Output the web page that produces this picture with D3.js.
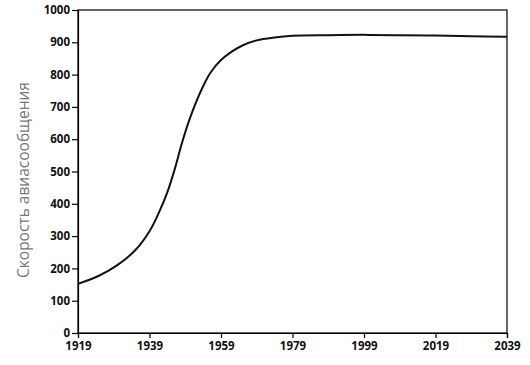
<!DOCTYPE html>
<html>
<head>
<meta charset="utf-8">
<script src="https://cdn.jsdelivr.net/npm/d3@7"></script>
<style>
  body { margin: 0; background: #fff; }
  svg { display: block; }
  .tick text { font-family: "Open Sans", sans-serif; font-weight: 700; font-size: 11.5px; fill: #111; }
</style>
</head>
<body>
<svg id="chart" width="530" height="365"></svg>
<script>
// data
var years  = [1919, 1925, 1930, 1935, 1939, 1942, 1944, 1946, 1948, 1950, 1952, 1954, 1956, 1959, 1962, 1965, 1969, 1974, 1979, 1989, 1999, 2009, 2019, 2029, 2039];
var speeds = [152, 178, 210, 256, 315, 382, 436, 505, 585, 655, 714, 764, 805, 845, 871, 890, 906, 915, 920, 922, 923, 922, 921, 919, 917];
var xTicks = [1919, 1939, 1959, 1979, 1999, 2019, 2039];
var yTicks = [0, 100, 200, 300, 400, 500, 600, 700, 800, 900, 1000];
var yLabel = "Скорость авиасообщения";

var margin = {top: 10, right: 23, bottom: 32, left: 78},
    width = 530 - margin.left - margin.right,
    height = 365 - margin.top - margin.bottom;

var svg = d3.select("#chart")
  .append("g")
    .attr("transform", "translate(" + margin.left + "," + margin.top + ")");

var x = d3.scaleLinear().domain([1919, 2039]).range([0, width]);
var y = d3.scaleLinear().domain([0, 1000]).range([height, 0]);

// frame
svg.append("rect")
  .attr("width", width)
  .attr("height", height)
  .attr("fill", "none")
  .attr("stroke", "#000")
  .attr("stroke-width", 1.2);

var xAxis = svg.append("g")
  .attr("transform", "translate(0," + height + ")")
  .call(d3.axisBottom(x).tickValues(xTicks).tickFormat(d3.format("d")).tickSize(5).tickPadding(4));

var yAxis = svg.append("g")
  .call(d3.axisLeft(y).tickValues(yTicks).tickFormat(d3.format("d")).tickSize(6).tickPadding(2));

[xAxis, yAxis].forEach(function(a) {
  a.select(".domain").attr("stroke-width", 1.2);
  a.selectAll(".tick line").attr("stroke-width", 1.2);
});

var data = years.map(function(d, i) { return {year: d, v: speeds[i]}; });

var line = d3.line()
  .x(function(d) { return x(d.year); })
  .y(function(d) { return y(d.v); })
  .curve(d3.curveCatmullRom.alpha(0.5));

svg.append("path")
  .datum(data)
  .attr("fill", "none")
  .attr("stroke", "#111")
  .attr("stroke-width", 2)
  .attr("d", line);

d3.select("#chart").append("text")
  .attr("transform", "translate(29,180) rotate(-90)")
  .attr("text-anchor", "middle")
  .attr("font-family", "'Open Sans', sans-serif")
  .attr("font-size", 15.5)
  .attr("fill", "#777")
  .text(yLabel);
</script>
</body>
</html>
